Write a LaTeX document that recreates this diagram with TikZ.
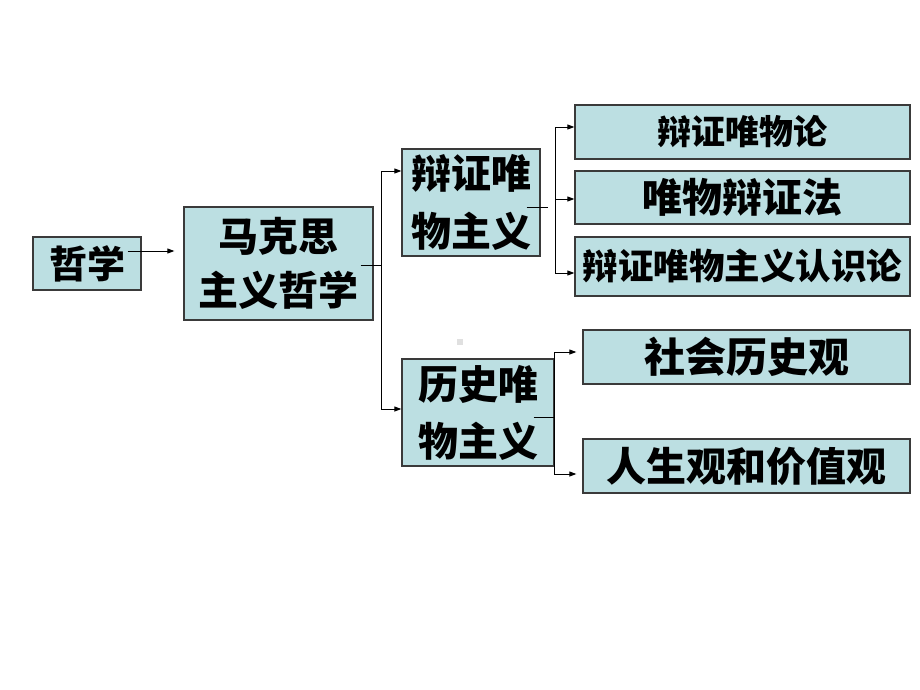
\documentclass[tikz,border=0pt]{standalone}
\usepackage{fontspec}
\newfontfamily\cjk{Noto Sans CJK SC}
\usetikzlibrary{arrows.meta,calc}
\definecolor{boxfill}{HTML}{BCDFE2}
\definecolor{boxline}{HTML}{3A3A3A}
\tikzset{
  box/.style={draw=boxline, line width=1.3pt, fill=boxfill, inner sep=0pt,
    align=center, font=\cjk\bfseries},
  arr/.style={line width=1pt, -{Triangle[length=7pt,width=5pt]}},
  ln/.style={line width=1pt}
}
\begin{document}
\begin{tikzpicture}[x=1pt,y=-1pt]
\useasboundingbox (0,0) rectangle (920,690);
% boxes
\node[box, minimum width=108pt, minimum height=53pt, font=\cjk\bfseries\fontsize{38}{40}\selectfont] (zx) at (87,263.5) {哲学};
\node[box, minimum width=189pt, minimum height=113pt, font=\cjk\bfseries\fontsize{40}{54}\selectfont] (mk) at (278.5,263.5) {马克思\\主义哲学};
\node[box, minimum width=138pt, minimum height=107pt, font=\cjk\bfseries\fontsize{40}{58}\selectfont] (bz) at (471,202.5) {辩证唯\\物主义};
\node[box, minimum width=152pt, minimum height=107pt, font=\cjk\bfseries\fontsize{40}{57}\selectfont] (ls) at (478,412.5) {历史唯\\物主义};
\node[box, minimum width=335pt, minimum height=54pt, font=\cjk\bfseries\fontsize{34}{36}\selectfont] (r1) at (742.5,132) {辩证唯物论};
\node[box, minimum width=335pt, minimum height=53pt, font=\cjk\bfseries\fontsize{40}{42}\selectfont] (r2) at (742.5,197.5) {唯物辩证法};
\node[box, minimum width=335pt, minimum height=59pt, font=\cjk\bfseries\fontsize{35.5}{38}\selectfont] (r3) at (742.5,266.5) {辩证唯物主义认识论};
\node[box, minimum width=327pt, minimum height=54pt, font=\cjk\bfseries\fontsize{41}{43}\selectfont] (r4) at (746.5,357) {社会历史观};
\node[box, minimum width=327pt, minimum height=54pt, font=\cjk\bfseries\fontsize{40}{42}\selectfont] (r5) at (746.5,466) {人生观和价值观};
% small gray mark
\node[fill=black!12, minimum size=6pt, inner sep=0pt] (mark) at (459.7,342) {};
% connectors
\coordinate (a0) at ($(zx.east)+(-14,-12.5)$);
\coordinate (a1) at ($(mk.west)+(-9,-12.5)$);
\draw[arr] (a0) -- (a1);
\coordinate (b0) at ($(mk.east)+(-13,1.5)$);
\coordinate (b1) at (381,265);
\draw[ln] (b0) -- (b1);
\draw[arr] (b1) |- ($(bz.west)+(0,-31.5)$);
\draw[arr] (b1) |- ($(ls.west)+(0,-3.5)$);
\coordinate (c0) at ($(bz.east)+(-14,4.5)$);
\coordinate (c1) at (548,207);
\draw[ln] (c0) -- (c1);
\coordinate (c2) at (555,207);
\coordinate (c3) at (555,199);
\draw[arr] (c2) |- ($(r1.west)+(0,-5)$);
\draw[arr] (c2) -- (c3) -- ($(r2.west)+(0,1.5)$);
\draw[arr] (c2) |- ($(r3.west)+(0,6.5)$);
\coordinate (d0) at ($(ls.east)+(-21,4.5)$);
\coordinate (d1) at (554.5,417);
\draw[ln] (d0) -- (d1);
\draw[arr] (d1) |- ($(r4.west)+(-6,-5)$);
\draw[arr] (d1) |- ($(r5.west)+(-6,8)$);
\end{tikzpicture}
\end{document}
